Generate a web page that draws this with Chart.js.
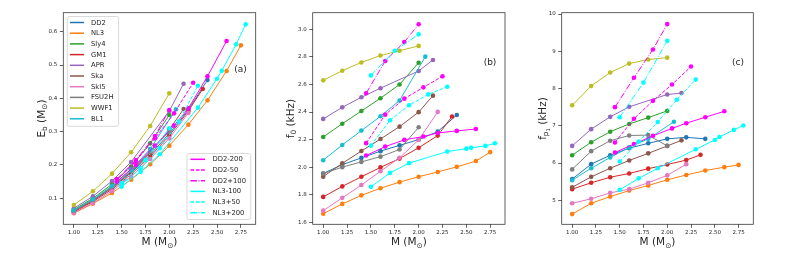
<!DOCTYPE html>
<html lang="en">
<head>
<meta charset="UTF-8">
<title>Binding energy, f0 and fp1 versus mass</title>
<script src="https://cdn.jsdelivr.net/npm/chart.js"></script>
<style>
  body { margin: 0; background: #fff; }
  canvas.panel { position: absolute; left: 0; top: 0; }
</style>
</head>
<body>
<canvas id="panelA" class="panel" width="793" height="264"></canvas>
<canvas id="panelB" class="panel" width="793" height="264"></canvas>
<canvas id="panelC" class="panel" width="793" height="264"></canvas>
<script>
  // series, in plotting order
  const seriesNames = ['DD2', 'NL3', 'Sly4', 'GM1', 'APR', 'Ska', 'SkI5', 'FSU2H', 'WWF1', 'BL1',
                       'DD2-200', 'DD2-50', 'DD2+100', 'NL3-100', 'NL3+50', 'NL3+200'];

  // stellar masses (M_sun) of each series
  const masses = [
    [1.0, 1.2, 1.4, 1.6, 1.8, 2.0, 2.2, 2.4],                 // DD2
    [1.0, 1.2, 1.4, 1.6, 1.8, 2.0, 2.2, 2.4, 2.6, 2.75],      // NL3
    [1.0, 1.2, 1.4, 1.6, 1.8, 2.0],                           // Sly4
    [1.0, 1.2, 1.4, 1.6, 1.8, 2.0, 2.2, 2.35],                // GM1
    [1.0, 1.2, 1.4, 1.6, 2.0, 2.15],                          // APR
    [1.0, 1.2, 1.4, 1.6, 1.8, 2.0, 2.15],                     // Ska
    [1.0, 1.2, 1.4, 1.6, 1.8, 2.0, 2.2],                      // SkI5
    [1.0, 1.2, 1.4, 1.6, 1.8, 2.0],                           // FSU2H
    [1.0, 1.2, 1.4, 1.6, 1.8, 2.0],                           // WWF1
    [1.0, 1.2, 1.4, 1.6, 1.8, 2.07],                          // BL1
    [1.45, 1.65, 1.85, 2.05, 2.2, 2.4, 2.6],                  // DD2-200
    [1.45, 1.65, 1.85, 2.05, 2.25],                           // DD2-50
    [1.45, 1.65, 1.85, 2.0],                                  // DD2+100
    [1.5, 1.7, 1.9, 2.3, 2.5, 2.55, 2.7, 2.8],                // NL3-100
    [1.5, 1.7, 1.9, 2.1, 2.3],                                // NL3+50
    [1.5, 1.75, 2.0]                                          // NL3+200
  ];

  // (a) binding energy E_b (M_sun)
  const ebValues = [
    [0.062, 0.093, 0.131, 0.177, 0.231, 0.294, 0.366, 0.455],
    [0.055, 0.084, 0.116, 0.156, 0.202, 0.258, 0.321, 0.394, 0.482, 0.559],
    [0.066, 0.100, 0.142, 0.195, 0.265, 0.350],
    [0.059, 0.090, 0.127, 0.172, 0.225, 0.288, 0.362, 0.428],
    [0.070, 0.106, 0.152, 0.209, 0.362, 0.444],
    [0.062, 0.094, 0.133, 0.180, 0.237, 0.306, 0.368],
    [0.056, 0.086, 0.122, 0.166, 0.218, 0.280, 0.356],
    [0.063, 0.095, 0.134, 0.182, 0.240, 0.300],
    [0.080, 0.121, 0.174, 0.238, 0.317, 0.415],
    [0.064, 0.097, 0.137, 0.186, 0.248, 0.367],
    [0.150, 0.200, 0.258, 0.318, 0.370, 0.466, 0.572],
    [0.155, 0.212, 0.280, 0.355, 0.447],
    [0.158, 0.215, 0.287, 0.365],
    [0.135, 0.180, 0.232, 0.372, 0.459, 0.483, 0.562, 0.622],
    [0.140, 0.190, 0.250, 0.330, 0.438],
    [0.145, 0.215, 0.310]
  ];

  // (b) f_0 (kHz)
  const f0Values = [
    [1.954, 2.018, 2.067, 2.116, 2.158, 2.200, 2.258, 2.378],
    [1.662, 1.733, 1.795, 1.847, 1.891, 1.930, 1.965, 2.002, 2.044, 2.109],
    [2.219, 2.315, 2.407, 2.500, 2.600, 2.758],
    [1.784, 1.860, 1.930, 1.998, 2.062, 2.140, 2.229, 2.368],
    [2.350, 2.434, 2.507, 2.573, 2.698, 2.778],
    [1.931, 2.027, 2.117, 2.204, 2.294, 2.399, 2.519],
    [1.684, 1.777, 1.870, 1.970, 2.068, 2.197, 2.401],
    [1.953, 2.000, 2.038, 2.076, 2.128, 2.289],
    [2.630, 2.700, 2.760, 2.810, 2.845, 2.880],
    [2.050, 2.161, 2.265, 2.369, 2.483, 2.802],
    [2.084, 2.149, 2.198, 2.222, 2.248, 2.263, 2.277],
    [2.174, 2.381, 2.497, 2.579, 2.659],
    [2.536, 2.770, 2.908, 3.037],
    [1.857, 1.958, 2.029, 2.113, 2.134, 2.140, 2.154, 2.173],
    [2.156, 2.340, 2.449, 2.528, 2.584],
    [2.666, 2.845, 2.964]
  ];

  // (c) f_p1 (kHz)
  const fp1Values = [
    [5.57, 5.97, 6.21, 6.40, 6.53, 6.65, 6.69, 6.65],
    [4.63, 4.92, 5.10, 5.26, 5.40, 5.55, 5.68, 5.80, 5.89, 5.95],
    [6.21, 6.56, 6.84, 7.05, 7.22, 7.40],
    [5.30, 5.47, 5.62, 5.72, 5.85, 5.96, 6.08, 6.22],
    [6.46, 6.91, 7.24, 7.51, 7.84, 7.88],
    [5.35, 5.63, 5.86, 6.07, 6.26, 6.46, 6.61],
    [4.92, 5.04, 5.20, 5.30, 5.47, 5.67, 5.97],
    [5.83, 6.32, 6.60, 6.74, 6.75, 6.46],
    [7.55, 8.07, 8.43, 8.67, 8.78, 8.83],
    [5.54, 5.86, 6.15, 6.42, 6.65, 7.11],
    [6.28, 6.51, 6.73, 6.93, 7.07, 7.23, 7.39],
    [6.55, 7.19, 7.67, 8.11, 8.59],
    [7.50, 8.29, 9.05, 9.73],
    [5.28, 5.59, 5.86, 6.37, 6.62, 6.70, 6.89, 7.01],
    [6.04, 6.58, 7.10, 7.70, 8.24],
    [7.23, 8.16, 9.28]
  ];

  // tick labels
  const xTicks = [1.00, 1.25, 1.50, 1.75, 2.00, 2.25, 2.50, 2.75];
  const ebTicks = [0.1, 0.2, 0.3, 0.4, 0.5, 0.6];
  const f0Ticks = [1.6, 1.8, 2.0, 2.2, 2.4, 2.6, 2.8, 3.0];
  const fp1Ticks = [5, 6, 7, 8, 9, 10];

  // styles
  const colors = ['#1f77b4', '#ff7f0e', '#2ca02c', '#d62728', '#9467bd', '#8c564b', '#e377c2', '#7f7f7f', '#bcbd22', '#17becf',
                  '#ff00ff', '#ff00ff', '#ff00ff', '#00ffff', '#00ffff', '#00ffff'];
  const DASHED = [3.7, 1.6];
  const DASHDOT = [6.4, 1.6, 1, 1.6];
  const dashes = [[], [], [], [], [], [], [], [], [], [], [], DASHED, DASHDOT, [], DASHED, DASHDOT];
  const FONT = '"DejaVu Sans", sans-serif';
  const TEXT = '#262626';

  // text with sub/superscript pieces: [text, scale, drop(em)]
  function drawRich(ctx, parts, x, y, rot, size) {
    ctx.save();
    ctx.translate(x, y);
    ctx.rotate(rot);
    let w = 0;
    parts.forEach(p => {
      ctx.font = (size * p[1]) + 'px ' + FONT;
      w += ctx.measureText(p[0]).width;
    });
    let cx = -w / 2;
    ctx.fillStyle = TEXT;
    ctx.textAlign = 'left';
    ctx.textBaseline = 'alphabetic';
    parts.forEach(p => {
      ctx.font = (size * p[1]) + 'px ' + FONT;
      ctx.fillText(p[0], cx, size * 0.36 + size * p[2]);
      cx += ctx.measureText(p[0]).width;
    });
    ctx.restore();
  }

  function drawLegend(chart, lg) {
    const ctx = chart.ctx;
    ctx.save();
    ctx.fillStyle = 'rgba(255,255,255,0.85)';
    ctx.strokeStyle = '#d0d0d0';
    ctx.lineWidth = 0.8;
    ctx.beginPath();
    ctx.roundRect(lg.x, lg.y, lg.w, lg.h, 2);
    ctx.fill();
    ctx.stroke();
    lg.items.forEach((idx, k) => {
      const ds = chart.data.datasets[idx];
      const y = lg.y0 + k * lg.dy;
      ctx.strokeStyle = ds.borderColor;
      ctx.lineWidth = 1.5;
      ctx.setLineDash(ds.borderDash || []);
      ctx.beginPath();
      ctx.moveTo(lg.lx0, y);
      ctx.lineTo(lg.lx1, y);
      ctx.stroke();
      ctx.setLineDash([]);
      ctx.fillStyle = TEXT;
      ctx.font = '6.8px ' + FONT;
      ctx.textAlign = 'left';
      ctx.textBaseline = 'middle';
      ctx.fillText(ds.label, lg.tx, y + 0.3);
    });
    ctx.restore();
  }

  const decoPlugin = {
    id: 'deco',
    afterDraw(chart, args, opts) {
      const ctx = chart.ctx;
      const a = chart.chartArea;
      ctx.save();
      ctx.strokeStyle = '#3a3a3a';
      ctx.lineWidth = 0.8;
      ctx.strokeRect(a.left, a.top, a.right - a.left, a.bottom - a.top);
      ctx.restore();
      drawRich(ctx, [['M (M', 1, 0], ['\u2299', 0.7, 0.22], [')', 1, 0]], (a.left + a.right) / 2, 241.5, 0, 10.5);
      drawRich(ctx, opts.yTitle, opts.yTitleX, (a.top + a.bottom) / 2, -Math.PI / 2, 10.5);
      ctx.save();
      ctx.fillStyle = TEXT;
      ctx.font = '9px ' + FONT;
      ctx.textAlign = 'center';
      ctx.textBaseline = 'middle';
      ctx.fillText(opts.tag, opts.tagX, opts.tagY);
      ctx.restore();
      (opts.legends || []).forEach(lg => drawLegend(chart, lg));
    }
  };

  function makePanel(id, values, yMin, yMax, yTicks, yDecimals, padLeft, padRight, deco) {
    const datasets = seriesNames.map((name, i) => ({
      label: name,
      data: masses[i].map((m, j) => ({ x: m, y: values[i][j] })),
      borderColor: colors[i],
      backgroundColor: colors[i],
      borderWidth: 1,
      borderDash: dashes[i],
      pointRadius: 2.3,
      pointHoverRadius: 2.3,
      pointBorderWidth: 0,
      showLine: true,
      tension: 0,
      order: seriesNames.length - i
    }));
    const tickFont = { family: FONT, size: 5.5 };
    return new Chart(document.getElementById(id), {
      type: 'scatter',
      data: { datasets },
      options: {
        responsive: false,
        animation: false,
        devicePixelRatio: 1,
        events: [],
        layout: { padding: { left: padLeft, right: padRight, top: 12.7, bottom: 0 } },
        plugins: { legend: { display: false }, tooltip: { enabled: false }, deco },
        scales: {
          x: {
            type: 'linear', min: 0.89, max: 2.905,
            afterBuildTicks: s => { s.ticks = xTicks.map(v => ({ value: v })); },
            afterFit: s => { s.height = 39.7; },
            ticks: { font: tickFont, color: TEXT, padding: 1, maxRotation: 0, autoSkip: false,
                     callback: v => Number(v).toFixed(2) },
            grid: { drawOnChartArea: false, tickLength: 3.5, color: '#3a3a3a', lineWidth: 0.8 },
            border: { display: false }
          },
          y: {
            type: 'linear', min: yMin, max: yMax,
            afterBuildTicks: s => { s.ticks = yTicks.map(v => ({ value: v })); },
            afterFit: s => { s.width = 30; },
            ticks: { font: tickFont, color: TEXT, padding: 2.5, autoSkip: false,
                     callback: v => Number(v).toFixed(yDecimals) },
            grid: { drawOnChartArea: false, tickLength: 3.5, color: '#3a3a3a', lineWidth: 0.8 },
            border: { display: false }
          }
        }
      },
      plugins: [decoPlugin]
    });
  }

  makePanel('panelA', ebValues, 0.022, 0.657, ebTicks, 1, 33.3, 537.3, {
    yTitle: [['E', 1, 0], ['b', 0.7, 0.22], [' (M', 1, 0], ['\u2299', 0.7, 0.22], [')', 1, 0]],
    yTitleX: 41, tag: '(a)', tagX: 240.5, tagY: 69.3,
    legends: [
      { x: 67.3, y: 16.5, w: 51.3, h: 109.8, y0: 22.5, dy: 10.7, lx0: 70, lx1: 84, tx: 91, items: [0, 1, 2, 3, 4, 5, 6, 7, 8, 9] },
      { x: 187, y: 153.5, w: 63.7, h: 66, y0: 159.3, dy: 10.7, lx0: 190.5, lx1: 205, tx: 212.5, items: [10, 11, 12, 13, 14, 15] }
    ]
  });

  makePanel('panelB', f0Values, 1.585, 3.121, f0Ticks, 1, 282.7, 288, {
    yTitle: [['f', 1, 0], ['0', 0.7, 0.22], [' (kHz)', 1, 0]],
    yTitleX: 290, tag: '(b)', tagX: 490, tagY: 62.7
  });

  makePanel('panelC', fp1Values, 4.356, 10.036, fp1Ticks, 0, 531.7, 39.7, {
    yTitle: [['f', 1, 0], ['p', 0.7, 0.22], ['1', 0.5, 0.42], [' (kHz)', 1, 0]],
    yTitleX: 542, tag: '(c)', tagX: 738, tagY: 62.3
  });
</script>
</body>
</html>
